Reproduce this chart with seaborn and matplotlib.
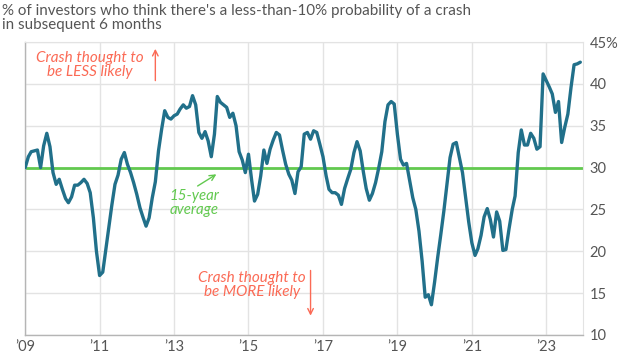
import pandas as pd
import numpy as np
import matplotlib.pyplot as plt
import matplotlib.dates as mdates
import seaborn as sns

# Monthly readings, Jan 2009 - Dec 2023 (% of investors)
start_month = '2009-01-01'
share = [
    30.0, 31.3, 31.9, 32.0, 32.1, 30.0, 32.6, 34.1, 32.5, 29.4, 28.0, 28.6,
    27.4, 26.3, 25.8, 26.5, 27.9, 27.9, 28.2, 28.6, 28.1, 27.0, 24.0, 20.0,
    17.1, 17.5, 20.0, 22.8, 25.5, 28.0, 29.1, 31.0, 31.8, 30.4, 29.4, 28.2,
    26.8, 25.2, 24.1, 23.0, 24.0, 26.4, 28.3, 32.0, 34.6, 36.8, 36.0, 35.8,
    36.2, 36.4, 37.0, 37.5, 37.1, 37.3, 38.6, 37.5, 34.2, 33.5, 34.3, 33.2,
    31.3, 34.0, 38.5, 37.8, 37.5, 37.2, 36.0, 36.5, 35.0, 31.9, 30.9, 29.4,
    31.6, 28.5, 26.0, 26.8, 29.0, 32.1, 30.5, 32.2, 33.3, 34.2, 33.9, 32.1,
    30.4, 29.2, 28.5, 26.9, 29.5, 30.1, 34.0, 34.2, 33.4, 34.4, 34.2, 32.8,
    31.3, 29.0, 27.4, 27.0, 27.0, 26.7, 25.6, 27.5, 28.7, 29.8, 31.8, 33.1,
    32.0, 29.5, 27.5, 26.1, 26.9, 28.2, 29.9, 31.9, 35.5, 37.5, 37.9, 37.6,
    34.0, 31.0, 30.3, 30.5, 28.5, 26.4, 25.0, 22.4, 18.8, 14.5, 14.8, 13.6,
    16.3, 19.3, 21.9, 24.8, 28.0, 31.2, 32.8, 33.0, 31.2, 29.4, 26.4, 23.5,
    21.0, 19.5, 20.3, 21.9, 24.1, 25.1, 23.8, 21.7, 24.7, 23.6, 20.1, 20.2,
    22.7, 25.0, 26.6, 31.8, 34.5, 32.7, 32.7, 34.1, 33.5, 32.2, 32.5, 41.2,
    40.4, 39.6, 38.8, 36.6, 37.9, 33.0, 34.8, 36.4, 39.6, 42.3, 42.4, 42.6,
]
average = 30.0
y_ticks = [10, 15, 20, 25, 30, 35, 40, 45]
y_labels = ['10', '15', '20', '25', '30', '35', '40', '45%']
x_years = [2009, 2011, 2013, 2015, 2017, 2019, 2021, 2023]
x_labels = ['\u201909', '\u201911', '\u201913', '\u201915', '\u201917', '\u201919', '\u201921', '\u201923']

df = pd.DataFrame({'date': pd.date_range(start_month, periods=len(share), freq='MS'),
                   'share': share})

sns.set_style('whitegrid')
plt.rcParams['font.family'] = ['Lato', 'DejaVu Sans']

line_color = '#21708a'
green = '#62c94f'
red = '#fb6a55'
text_gray = '#555555'

fig = plt.figure(figsize=(6.3, 3.54), dpi=100)
ax = fig.add_axes([0.040, 0.054, 0.885, 0.827])

ax.axhline(average, color=green, lw=2, zorder=2)
sns.lineplot(data=df, x='date', y='share', ax=ax, color=line_color, lw=2.4, zorder=3)

ax.set_xlim(pd.Timestamp('2009-01-01'), pd.Timestamp('2023-12-25'))
ax.set_ylim(10, 45)
ax.set_yticks(y_ticks)
ax.set_yticklabels(y_labels)
ax.set_xticks([pd.Timestamp(f'{y}-01-01') for y in x_years])
ax.set_xticklabels(x_labels)
ax.yaxis.tick_right()
ax.set_xlabel('')
ax.set_ylabel('')
ax.tick_params(axis='both', length=0, labelsize=10.5, colors=text_gray, pad=5)
ax.tick_params(axis='x', pad=4)

ax.grid(True, color='#e3e3e3', lw=1)
for side in ['top', 'right']:
    ax.spines[side].set_color('#e3e3e3')
for side in ['left', 'bottom']:
    ax.spines[side].set_color('#b5b5b5')
    ax.spines[side].set_linewidth(1)

fig.text(0.003, 0.99, "% of investors who think there's a less-than-10% probability of a crash\nin subsequent 6 months",
         ha='left', va='top', fontsize=10.9, color=text_gray, linespacing=1.0)

# annotations
ax.text(pd.Timestamp('2010-10-01'), 42.3, 'Crash thought to\nbe LESS likely', color=red,
        style='italic', fontsize=11, ha='center', va='center', linespacing=1.0)
ax.annotate('', xy=(pd.Timestamp('2012-07-01'), 44.2), xytext=(pd.Timestamp('2012-07-01'), 40.4),
            arrowprops=dict(arrowstyle='->', color=red, lw=1, shrinkA=0, shrinkB=0))

ax.text(pd.Timestamp('2013-07-15'), 25.8, '15-year\naverage', color=green,
        style='italic', fontsize=10.8, ha='center', va='center', linespacing=1.0)
ax.annotate('', xy=(pd.Timestamp('2014-02-20'), 29.2), xytext=(pd.Timestamp('2013-08-20'), 27.8),
            arrowprops=dict(arrowstyle='->', color=green, lw=1, shrinkA=0, shrinkB=0))

ax.text(pd.Timestamp('2015-02-01'), 16.0, 'Crash thought to\nbe MORE likely', color=red,
        style='italic', fontsize=11, ha='center', va='center', linespacing=1.0)
ax.annotate('', xy=(pd.Timestamp('2016-09-01'), 12.3), xytext=(pd.Timestamp('2016-09-01'), 17.7),
            arrowprops=dict(arrowstyle='->', color=red, lw=1, shrinkA=0, shrinkB=0))

fig.savefig('out.png', dpi=100)
